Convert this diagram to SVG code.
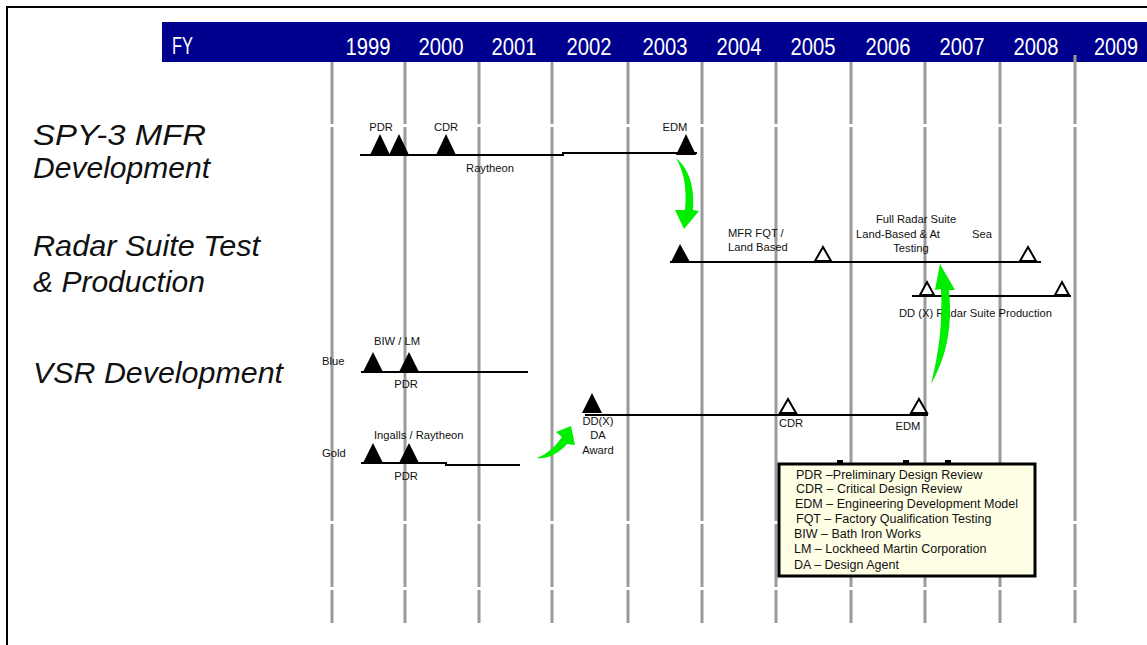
<svg xmlns="http://www.w3.org/2000/svg" width="1147" height="645" viewBox="0 0 1147 645">
<style>
.yr{font-family:"Liberation Sans",Arial,sans-serif;font-size:24px;fill:#fff;text-anchor:middle}
.big{font-family:"Liberation Sans",Arial,sans-serif;font-style:italic;font-size:30px;fill:#111}
.s{font-family:"Liberation Sans",Arial,sans-serif;font-size:11.2px;fill:#111}
.c{text-anchor:middle}
.lg{font-family:"Liberation Sans",Arial,sans-serif;font-size:12.5px;fill:#111}
.grid{stroke:#9a9a9a;stroke-width:3;fill:none}
.bar{stroke:#000;stroke-width:2;fill:none}
.ft{fill:#000}
.ot{fill:#fff;stroke:#000;stroke-width:2;stroke-linejoin:miter}
.arr{fill:#00ee00}
</style>
<rect x="0" y="0" width="1147" height="645" fill="#fff"/>
<path d="M7,645 V7 H1147" stroke="#000" stroke-width="2" fill="none"/>
<g id="header">
<rect x="162" y="22" width="985" height="40" fill="#00008e"/>
<text x="172" y="54" class="yr" style="text-anchor:start" textLength="21" lengthAdjust="spacingAndGlyphs">FY</text>
<text x="368" y="55" class="yr" textLength="45" lengthAdjust="spacingAndGlyphs">1999</text>
<text x="441" y="55" class="yr" textLength="45" lengthAdjust="spacingAndGlyphs">2000</text>
<text x="514" y="55" class="yr" textLength="45" lengthAdjust="spacingAndGlyphs">2001</text>
<text x="589" y="55" class="yr" textLength="45" lengthAdjust="spacingAndGlyphs">2002</text>
<text x="665" y="55" class="yr" textLength="45" lengthAdjust="spacingAndGlyphs">2003</text>
<text x="739" y="55" class="yr" textLength="45" lengthAdjust="spacingAndGlyphs">2004</text>
<text x="813" y="55" class="yr" textLength="45" lengthAdjust="spacingAndGlyphs">2005</text>
<text x="888" y="55" class="yr" textLength="45" lengthAdjust="spacingAndGlyphs">2006</text>
<text x="962" y="55" class="yr" textLength="45" lengthAdjust="spacingAndGlyphs">2007</text>
<text x="1036" y="55" class="yr" textLength="45" lengthAdjust="spacingAndGlyphs">2008</text>
<text x="1116" y="55" class="yr" textLength="44" lengthAdjust="spacingAndGlyphs">2009</text>
</g>
<g id="grid" class="grid">
<path d="M332,62V124M332,127V521M332,524V587M332,590V623"/>
<path d="M405,62V124M405,127V521M405,524V587M405,590V623"/>
<path d="M479,62V124M479,127V521M479,524V587M479,590V623"/>
<path d="M552,62V124M552,127V521M552,524V587M552,590V623"/>
<path d="M628,62V124M628,127V521M628,524V587M628,590V623"/>
<path d="M702,62V124M702,127V521M702,524V587M702,590V623"/>
<path d="M776,62V124M776,127V521M776,524V587M776,590V623"/>
<path d="M851,62V124M851,127V521M851,524V587M851,590V623"/>
<path d="M925,62V124M925,127V521M925,524V587M925,590V623"/>
<path d="M1000,62V124M1000,127V521M1000,524V587M1000,590V623"/>
<path d="M1075,55V124M1075,127V521M1075,524V587M1075,590V623"/>
</g>
<g id="row-labels">
<text x="33" y="145" class="big" textLength="173" lengthAdjust="spacingAndGlyphs">SPY-3 MFR</text>
<text x="33" y="178" class="big" textLength="177" lengthAdjust="spacingAndGlyphs">Development</text>
<text x="33" y="256" class="big" textLength="227" lengthAdjust="spacingAndGlyphs">Radar Suite Test</text>
<text x="33" y="292" class="big" textLength="172" lengthAdjust="spacingAndGlyphs">&amp; Production</text>
<text x="33" y="383" class="big" textLength="250" lengthAdjust="spacingAndGlyphs">VSR Development</text>
</g>
<g id="spy3">
<path class="bar" d="M360,155 H563 V153 H697"/>
<polygon class="ft" points="370,155 380,134 390,155"/>
<polygon class="ft" points="389,155 399,134 409,155"/>
<polygon class="ft" points="436,155 446,134 456,155"/>
<polygon class="ft" points="676,155 686,134 696,155"/>
<text x="381" y="131" class="s c">PDR</text>
<text x="446" y="131" class="s c">CDR</text>
<text x="675" y="131" class="s c">EDM</text>
<text x="490" y="172" class="s c">Raytheon</text>
</g>
<g id="radar-test">
<path class="bar" d="M670,262 H1041"/>
<polygon class="ft" points="671,262 680,244 690,262"/>
<polygon class="ot" points="815,261 823,247 831,261"/>
<polygon class="ot" points="1020,261 1028,247 1036,261"/>
<text x="728" y="237" class="s">MFR FQT /</text>
<text x="728" y="251" class="s">Land Based</text>
<text x="916" y="223" class="s c">Full Radar Suite</text>
<text x="898" y="238" class="s c">Land-Based &amp; At</text>
<text x="972" y="238" class="s">Sea</text>
<text x="911" y="252" class="s c">Testing</text>
</g>
<g id="radar-production">
<path class="bar" d="M912,296 H1071"/>
<polygon class="ot" points="920,295 927,282 934,295"/>
<polygon class="ot" points="1055,295 1062,282 1069,295"/>
<text x="899" y="317" class="s">DD (X) Radar Suite Production</text>
</g>
<g id="vsr-blue">
<text x="322" y="365" class="s">Blue</text>
<path class="bar" d="M361,372 H528"/>
<polygon class="ft" points="363,372 373,352 383,372"/>
<polygon class="ft" points="399,372 409,352 419,372"/>
<text x="374" y="345" class="s">BIW / LM</text>
<text x="406" y="388" class="s c">PDR</text>
</g>
<g id="vsr-gold">
<text x="322" y="457" class="s">Gold</text>
<path class="bar" d="M361,463 H446 V465 H520"/>
<polygon class="ft" points="363,463 373,443 383,463"/>
<polygon class="ft" points="399,463 409,443 419,463"/>
<text x="374" y="439" class="s">Ingalls / Raytheon</text>
<text x="406" y="480" class="s c">PDR</text>
</g>
<g id="ddx">
<path class="bar" d="M585,415 H928"/>
<polygon class="ft" points="582,413 592,393 602,413"/>
<polygon class="ot" points="780,413 788,399 796,413"/>
<polygon class="ot" points="911,413 919,399 927,413"/>
<text x="598" y="425" class="s c">DD(X)</text>
<text x="598" y="439" class="s c">DA</text>
<text x="598" y="454" class="s c">Award</text>
<text x="791" y="427" class="s c">CDR</text>
<text x="908" y="430" class="s c">EDM</text>
</g>
<g id="connectors">
<path class="arr" d="M676,158 C688,168 695,185 693,210 L699,211 L684,229 L675,210 L685,210 C687,188 684,172 676,158 Z"/>
<path class="arr" d="M940,264 L955,290 L949,290 C953,330 945,360 931,384 C937,360 943,330 941,289 L935,290 Z"/>
<path class="arr" d="M537,458 C548,460 560,452 567,444 L575,445 L571,426 L556,432 L562,437 C555,447 547,454 537,458 Z"/>
</g>
<g id="legend">
<rect x="837" y="460" width="6" height="3" fill="#000"/>
<rect x="903" y="460" width="6" height="3" fill="#000"/>
<rect x="945" y="460" width="6" height="3" fill="#000"/>
<rect x="779" y="464" width="256" height="112" fill="#ffffe6" stroke="#000" stroke-width="3"/>
<text x="796" y="479" class="lg">PDR –Preliminary Design Review</text>
<text x="796" y="493" class="lg">CDR – Critical Design Review</text>
<text x="795" y="508" class="lg">EDM –  Engineering Development Model</text>
<text x="796" y="523" class="lg">FQT – Factory Qualification Testing</text>
<text x="794" y="538" class="lg">BIW – Bath Iron Works</text>
<text x="794" y="553" class="lg">LM – Lockheed Martin Corporation</text>
<text x="794" y="569" class="lg">DA – Design Agent</text>
</g>
</svg>
